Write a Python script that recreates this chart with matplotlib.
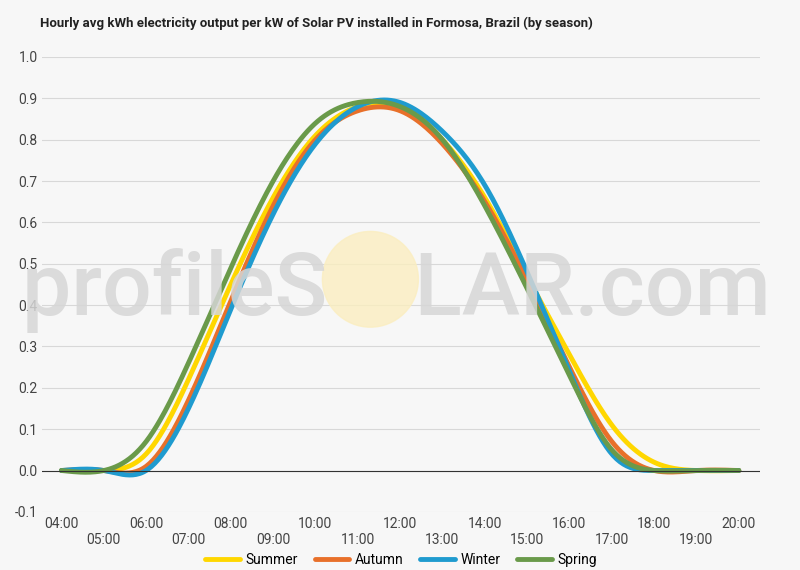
import numpy as np
import matplotlib
matplotlib.use("Agg")
import matplotlib.pyplot as plt
from matplotlib.patches import Ellipse

hours = list(range(4, 21))
summer = [0, 0, 0.04, 0.22, 0.45, 0.66, 0.81, 0.88, 0.88, 0.80, 0.66, 0.47, 0.28, 0.11, 0.02, 0, 0]
autumn = [0, 0, 0.01, 0.17, 0.41, 0.64, 0.80, 0.87, 0.87, 0.79, 0.65, 0.46, 0.25, 0.07, 0, 0, 0]
winter = [0, 0, 0.0, 0.15, 0.39, 0.62, 0.79, 0.88, 0.89, 0.82, 0.69, 0.48, 0.24, 0.04, 0, 0, 0]
spring = [0, 0, 0.07, 0.26, 0.49, 0.70, 0.84, 0.89, 0.88, 0.80, 0.64, 0.44, 0.23, 0.05, 0, 0, 0]
names = ["Summer", "Autumn", "Winter", "Spring"]
colors = ["#ffd700", "#e8702a", "#1f9bcf", "#6a9a4a"]

def spline(x, y, n=400):
    x = np.asarray(x, float); y = np.asarray(y, float)
    m = len(x); h = np.diff(x)
    A = np.zeros((m, m)); b = np.zeros(m)
    A[0, 0] = A[-1, -1] = 1
    for i in range(1, m - 1):
        A[i, i-1] = h[i-1]; A[i, i] = 2*(h[i-1]+h[i]); A[i, i+1] = h[i]
        b[i] = 3*((y[i+1]-y[i])/h[i] - (y[i]-y[i-1])/h[i-1])
    c = np.linalg.solve(A, b)
    xs = np.linspace(x[0], x[-1], n); ys = np.empty(n)
    for k, xv in enumerate(xs):
        i = min(np.searchsorted(x, xv, side='right') - 1, m - 2)
        d = xv - x[i]
        bb = (y[i+1]-y[i])/h[i] - h[i]*(2*c[i]+c[i+1])/3
        dd = (c[i+1]-c[i])/(3*h[i])
        ys[k] = y[i] + bb*d + c[i]*d*d + dd*d**3
    return xs, ys

plt.rcParams['font.family'] = ['Roboto', 'DejaVu Sans']
fig = plt.figure(figsize=(8, 5.7), dpi=100)
fig.patch.set_facecolor("#f7f7f7")
ax = fig.add_axes([0.053, 0.102, 0.897, 0.798])
ax.set_facecolor("none")

fig.text(0.495, 0.49, "profileS    LAR.com", fontsize=63, color="#d6d6d6", alpha=0.85,
         ha='center', va='center', zorder=0, fontweight='medium')
fig.patches.append(Ellipse((0.463, 0.51), 0.12, 0.168, transform=fig.transFigure,
                           color="#fbeec0", alpha=0.8, zorder=0))

for y, nm, c in zip([summer, autumn, winter, spring], names, colors):
    xs, ys = spline(hours, y)
    ax.plot(xs, ys, color=c, lw=3.5, label=nm, solid_capstyle='round')

ax.set_xlim(3.55, 20.5)
ax.set_ylim(-0.1, 1.0)
ax.set_yticks(np.arange(-0.1, 1.01, 0.1))
ax.set_yticklabels([f"{v:.1f}" for v in np.arange(-0.1, 1.01, 0.1)], fontsize=10, color="#444")
ax.set_xticks(hours)
ax.set_xticklabels([f"{h:02d}:00" if i % 2 == 0 else f"\n{h:02d}:00" for i, h in enumerate(hours)],
                   fontsize=10, color="#444")
ax.tick_params(length=0)
ax.grid(axis='y', color="#d8d8d8", lw=0.8)
ax.axhline(0, color="#333", lw=0.8)
for s in ax.spines.values():
    s.set_visible(False)

fig.text(0.05, 0.952, "Hourly avg kWh electricity output per kW of Solar PV installed in Formosa, Brazil (by season)",
         fontsize=9.5, fontweight='bold', color="#222")
ax.legend(loc='upper center', bbox_to_anchor=(0.5, -0.09), ncol=4, frameon=False,
          fontsize=10, handlelength=2.5, columnspacing=1.2, handletextpad=0.4,
          borderpad=0, borderaxespad=0)
fig.savefig("out.png", dpi=100, facecolor=fig.get_facecolor())
